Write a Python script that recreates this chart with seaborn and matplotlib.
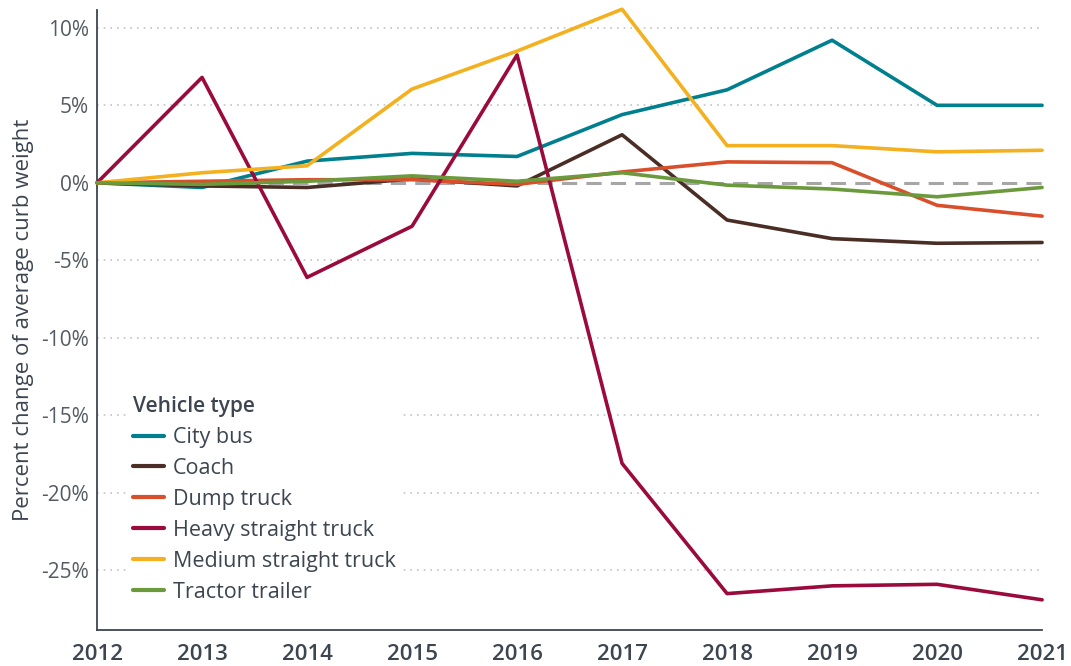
import pandas as pd
import seaborn as sns
import matplotlib.pyplot as plt
from matplotlib.ticker import FuncFormatter

# Dados (variação % do peso médio em ordem de marcha)
anos = [2012, 2013, 2014, 2015, 2016, 2017, 2018, 2019, 2020, 2021]
city_bus = [0, -0.3, 1.4, 1.9, 1.7, 4.4, 6.0, 9.2, 5.0, 5.0]
coach = [0, -0.2, -0.3, 0.25, -0.2, 3.1, -2.4, -3.6, -3.9, -3.85]
dump_truck = [0, 0.1, 0.2, 0.2, -0.1, 0.7, 1.35, 1.3, -1.45, -2.15]
heavy_straight = [0, 6.8, -6.1, -2.8, 8.25, -18.1, -26.5, -26.0, -25.9, -26.9]
medium_straight = [0, 0.65, 1.1, 6.05, 8.5, 11.2, 2.4, 2.4, 2.0, 2.1]
tractor_trailer = [0, -0.1, 0.1, 0.45, 0.1, 0.65, -0.15, -0.4, -0.9, -0.3]

series = {
    "City bus": city_bus,
    "Coach": coach,
    "Dump truck": dump_truck,
    "Heavy straight truck": heavy_straight,
    "Medium straight truck": medium_straight,
    "Tractor trailer": tractor_trailer,
}
cores = ["#007f8f", "#4a2e25", "#d94f2b", "#9b0a3c", "#f3b01f", "#6a9a3c"]

df = pd.concat(
    [pd.DataFrame({"ano": anos, "valor": v, "tipo": k}) for k, v in series.items()]
)

sns.set_style("white")
plt.rcParams["font.family"] = ["Open Sans", "DejaVu Sans"]
texto = "#3d4550"

fig = plt.figure(figsize=(10.71, 6.66), dpi=100)
ax = fig.add_axes([0.0906, 0.054, 0.8824, 0.931])

# grade pontilhada e linha de zero tracejada
for y in [10, 5, -5, -10, -15, -20, -25]:
    ax.axhline(y, color="#c4c4c4", linestyle=(0, (1, 3)), linewidth=1.2, zorder=0)
ax.axhline(0, color="#a6a6a6", linestyle=(0, (5, 3)), linewidth=2.2, zorder=1)

sns.lineplot(data=df, x="ano", y="valor", hue="tipo", palette=cores,
             linewidth=2.6, ax=ax, zorder=3, clip_on=False)

ax.set_xlim(2012, 2021)
ax.set_ylim(-28.85, 11.15)
ax.set_xticks(anos)
ax.set_yticks([10, 5, 0, -5, -10, -15, -20, -25])
ax.yaxis.set_major_formatter(FuncFormatter(lambda v, p: f"{v:.0f}%"))
ax.tick_params(axis="y", labelsize=15, colors="#555b63", length=0, pad=6)
ax.tick_params(axis="x", labelsize=16, colors=texto, length=0, pad=10)
for t in ax.get_xticklabels():
    t.set_fontweight("semibold")

ax.set_xlabel("")
ax.set_ylabel("Percent change of average curb weight", fontsize=16,
              color=texto, labelpad=5)

sns.despine(ax=ax)
for s in ["left", "bottom"]:
    ax.spines[s].set_color(texto)
    ax.spines[s].set_linewidth(1.3)

leg = ax.legend(title="Vehicle type", loc="upper left",
                bbox_to_anchor=(0.02, 0.405), frameon=True, fontsize=15.5,
                title_fontsize=15, handlelength=1.45, handletextpad=0.4,
                labelspacing=0.46, borderpad=0.3, alignment="left")
leg.set_zorder(2)
leg.get_frame().set_facecolor("white")
leg.get_frame().set_edgecolor("none")
leg.get_frame().set_alpha(1)
leg.get_title().set_fontweight("semibold")
leg.get_title().set_color(texto)
for t in leg.get_texts():
    t.set_color(texto)
for l in leg.get_lines():
    l.set_linewidth(3)

fig.savefig("out.png", dpi=100)
